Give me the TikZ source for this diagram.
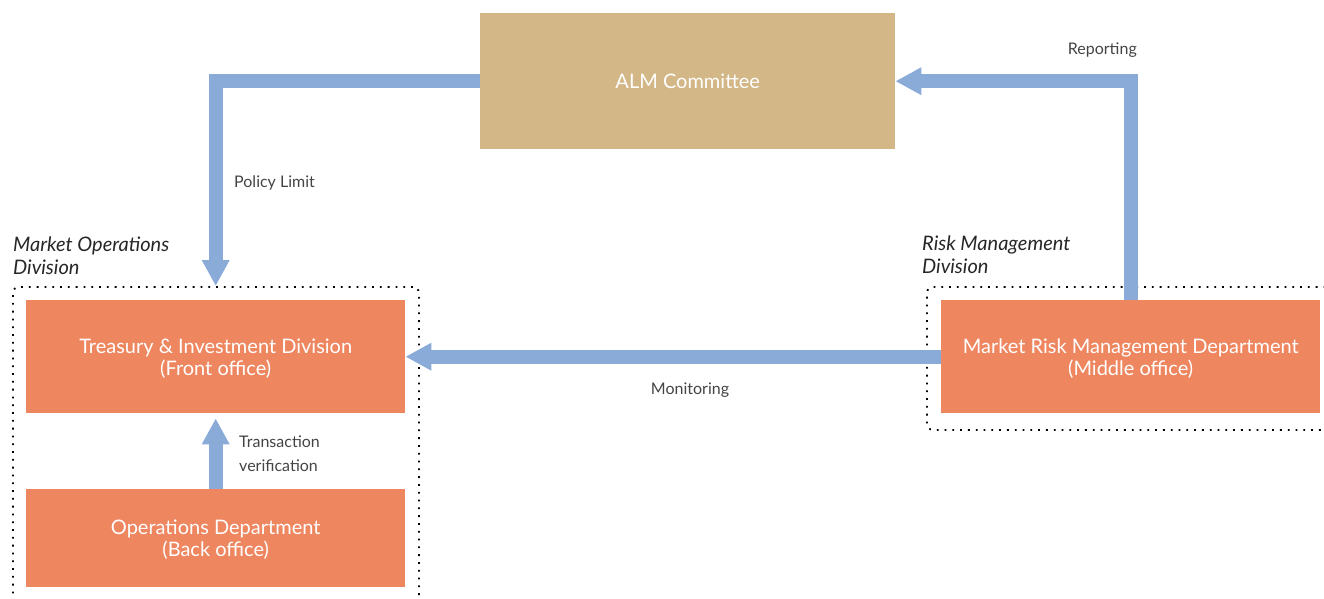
\documentclass[tikz,border=0pt]{standalone}
\usepackage{fontspec}
\setmainfont{Lato}
\usetikzlibrary{arrows.meta}
\definecolor{tan}{HTML}{D3B787}
\definecolor{orng}{HTML}{EE8660}
\definecolor{arrblue}{HTML}{8AAAD8}
\definecolor{lbl}{HTML}{444444}
\tikzset{
  box/.style={fill=#1, draw=none, text=white, align=center, inner sep=0pt, text depth=0pt, font=\fontsize{20}{22}\selectfont},
  flow/.style={draw=arrblue, line width=14pt, -{Triangle[width=26pt,length=26pt]}},
  divbox/.style={draw=black, line width=1.8pt, dash pattern=on 1.8pt off 6pt, rounded corners=6pt, fill=none},
  lab/.style={text=lbl, font=\fontsize{16}{24}\selectfont, inner sep=0pt},
  divlab/.style={text=black!85, font=\itshape\fontsize{20}{23}\selectfont, align=left, inner sep=0pt, anchor=north west}
}
\begin{document}
\begin{tikzpicture}[x=1pt,y=-1pt]
\useasboundingbox (0,0) rectangle (1324,598);
% division frames
\node[divbox, minimum width=406pt, minimum height=340pt, anchor=north west] (modiv) at (12,286) {};
\node[divbox, minimum width=420pt, minimum height=143pt, anchor=north west] (rmdiv) at (926,286) {};
% boxes
\node[box=tan, minimum width=415pt, minimum height=136pt, anchor=north west] (alm) at (480,13) {ALM Committee};
\node[box=orng, minimum width=379pt, minimum height=113pt, anchor=north west] (treas) at (26,300) {Treasury \& Investment Division\\(Front office)};
\node[box=orng, minimum width=379pt, minimum height=98pt, anchor=north west] (ops) at (26,489) {Operations Department\\(Back office)};
\node[box=orng, minimum width=379pt, minimum height=113pt, anchor=north west] (mrm) at (941,300) {Market Risk Management Department\\(Middle office)};
% division labels
\node[divlab] (molab) at (13,237) {Market Operations\\Division};
\node[divlab] (rmlab) at (922,236) {Risk Management\\Division};
% arrows
\draw[flow] (alm.west) -| (treas.north |- modiv.north);
\draw[flow] (mrm.north) |- (alm.east);
\draw[flow] (mrm.west) -- (treas.east);
\draw[flow, shorten >=5pt] (ops.north) -- (treas.south);
% labels
\node[lab, anchor=west] (pl) at (234,183) {Policy Limit};
\node[lab, anchor=east] (rep) at (1137,50) {Reporting};
\node[lab] (mon) at (690,390) {Monitoring};
\node[lab, anchor=north west, align=left] (tv) at (239,436) {Transaction\\verification};
\end{tikzpicture}
\end{document}
